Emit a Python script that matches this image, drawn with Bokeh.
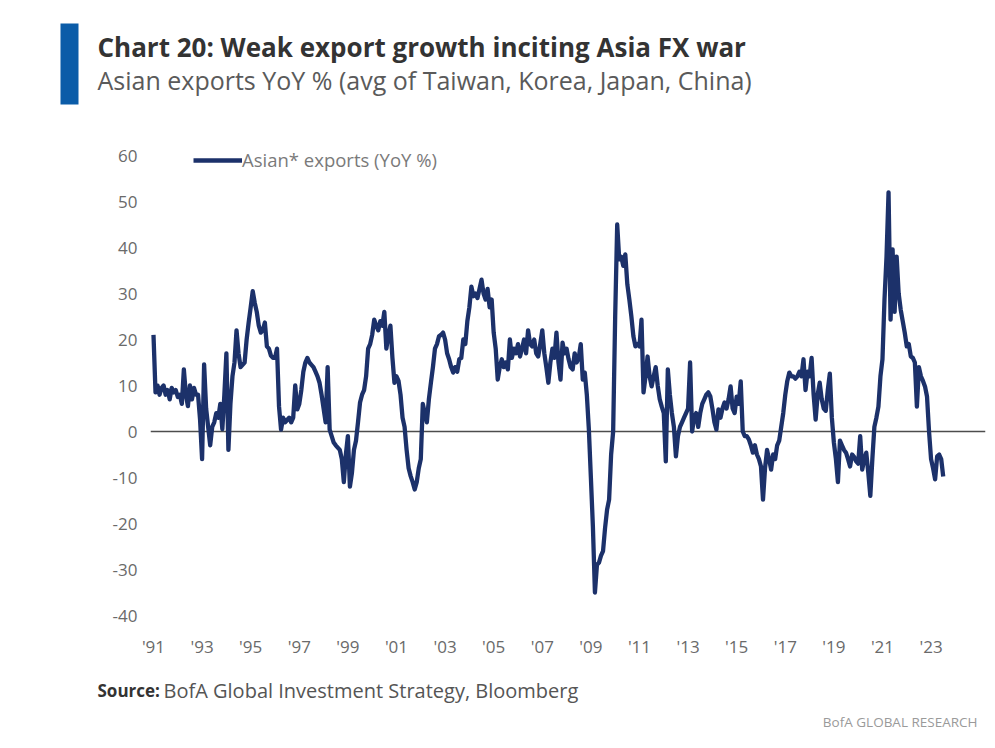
import numpy as np
from bokeh.plotting import figure
from bokeh.layouts import column
from bokeh.models import (Span, Label, BoxAnnotation, FixedTicker, Legend,
                          LegendItem, Range1d)
from bokeh.embed import file_html
from bokeh.resources import INLINE

# ---------------- data (monthly, starting Jan 1991) ----------------
start_year = 1991
export_yoy = [
    21, 8.5, 10, 8, 9.5, 10, 8, 9, 7, 9.5, 8.5, 9,                      # 1991
    7.5, 8, 6, 13.5, 8, 5.5, 10, 7, 9.5, 8, 8, 2.6,                      # 1992
    -6, 14.6, 5, 1, -3, 1, 2, 4, 3, 6, 0.5, 8,                           # 1993
    17, -4, 6, 12, 15, 22, 17, 14, 14.5, 15, 20, 23.7,                   # 1994
    27, 30.5, 28, 26, 23, 21.5, 22, 23.7, 18.5, 18, 16.5, 16,            # 1995
    16, 18, 5.4, 0.4, 3, 2, 2.5, 3, 2, 3, 10, 4.8,                       # 1996
    6, 9, 13, 15, 16, 15, 14.5, 14, 13, 12, 10.6, 8,                     # 1997
    5, 2, 14, 0.4, -1, -2.4, -3, -3.5, -4, -6, -11, -5,                  # 1998
    -1, -12, -9, -4, -2, 2, 6.3, 8, 9, 12, 18, 19,                       # 1999
    21, 24.3, 23, 22, 24, 23, 26, 18, 21, 23, 16, 10.6,                  # 2000
    12, 11, 8, 3, 1, -4, -8, -9.7, -11, -12.6, -11, -8,                  # 2001
    -6, 6, 4, 2, 7, 10.6, 14, 18, 19, 20.7, 21, 21.5,                    # 2002
    20, 17, 15.7, 14, 12.8, 14, 13, 15.7, 16, 20, 19, 24,                # 2003
    27, 31.5, 29.4, 30, 29, 31, 33, 30, 28.7, 31, 27, 28.7,              # 2004
    21.5, 18, 11.3, 14, 15.7, 14, 15, 13.5, 20, 16, 18, 17,              # 2005
    19, 16.3, 18, 20, 17, 22, 19, 18.5, 20, 17, 16.3, 19,                # 2006
    22, 17, 14, 10.6, 15, 18, 16, 21.5, 15, 11.3, 19.3, 17,              # 2007
    18, 15.7, 14, 13.5, 17, 15, 16, 19, 11.3, 12.8, 8, 0.5,              # 2008
    -10, -20.7, -35, -29, -28.5, -27, -26, -21, -17, -14.8, -5, 0,       # 2009
    25, 45, 37.4, 38, 36, 38.5, 32, 28.7, 25, 20.7, 18.5, 19,            # 2010
    18.5, 24.3, 8.5, 12, 16.3, 12, 9.8, 12, 14, 10, 7, 5.4,              # 2011
    4, -6.5, 13.5, 8, 4, 1, -5.4, -1, 1, 2, 3, 4,                        # 2012
    5, 15, 0, 3, 4, 1, 4, 6, 7, 8, 8.5, 7.6,                             # 2013
    5, 2, 0.4, 4.8, 3, 5, 6.3, 5, 7, 9.8, 5, 4,                          # 2014
    7.6, 6, 10.9, 0, -1, -1, -1.7, -3, -4.6, -3, -5, -6,                 # 2015
    -7.6, -14.8, -8, -4, -6, -8.3, -5, -6, -3, -2, 1, 4,                 # 2016
    8, 11, 12.8, 12, 12, 11.5, 12, 13, 12, 15.7, 9, 13,                  # 2017
    12, 16, 8, 2.6, 8, 10.6, 7, 5, 4.5, 9, 12.6, 3,                      # 2018
    -2.4, -6, -11, -2, -3, -4, -4.6, -6, -7.6, -5, -5.5, -6.5,           # 2019
    -7, -1, -8.3, -6, -4.6, -9, -14, -6, 1, 3, 5.4, 12,                  # 2020
    15.7, 28.7, 38, 52, 24.3, 39.6, 26, 38, 30, 26.5, 24, 21.5,          # 2021
    18.5, 19, 16.3, 16, 15, 5.4, 14, 12, 11, 9.8, 7.6, 0,                # 2022
    -6, -8, -10.4, -5.4, -5, -6, -9.8,                                   # 2023
]
x_tick_years = list(range(1991, 2024, 2))
x_tick_labels = ["'91", "'93", "'95", "'97", "'99", "'01", "'03", "'05", "'07",
                 "'09", "'11", "'13", "'15", "'17", "'19", "'21", "'23"]
y_ticks = [-40, -30, -20, -10, 0, 10, 20, 30, 40, 50, 60]
y_tick_labels = ["-40", "-30", "-20", "-10", "0", "10", "20", "30", "40", "50", "60"]

title_text = "Chart 20: Weak export growth inciting Asia FX war"
subtitle_text = "Asian exports YoY % (avg of Taiwan, Korea, Japan, China)"
legend_label = "Asian* exports (YoY %)"
source_label = "Source:"
source_text = "BofA Global Investment Strategy, Bloomberg"
brand_text = "BofA GLOBAL RESEARCH"

W = 995
HEAD_H = 130
FOOT_H = 80
MAIN_H = 748 - HEAD_H - FOOT_H
FRAME_TOP = 140      # canvas px of the plot frame's top edge
FRAME_BOTTOM = 615   # canvas px of the plot frame's bottom edge (= -40)
PX_PER_UNIT = 4.6


def blank(height):
    f = figure(width=W, height=height, output_backend="svg", toolbar_location=None,
               x_range=Range1d(0, W), y_range=Range1d(0, height),
               min_border=0, x_axis_location=None, y_axis_location=None)
    f.frame_align = False
    f.outline_line_color = None
    f.grid.visible = False
    f.background_fill_color = "white"
    f.border_fill_color = "white"
    return f


# ---------------- header ----------------
head = blank(HEAD_H)
head.add_layout(BoxAnnotation(left=60, right=78, top=HEAD_H - 23, bottom=HEAD_H - 104,
                              left_units="screen", right_units="screen",
                              top_units="screen", bottom_units="screen",
                              fill_color="#0B5CA8", fill_alpha=1, line_alpha=0))
head.add_layout(Label(x=97, y=HEAD_H - 46, x_units="screen", y_units="screen",
                      text=title_text, text_font="Open Sans", text_font_style="bold",
                      text_font_size="26px", text_color="#333333",
                      text_baseline="alphabetic"))
head.add_layout(Label(x=97, y=HEAD_H - 79, x_units="screen", y_units="screen",
                      text=subtitle_text, text_font="Open Sans",
                      text_font_size="25px", text_color="#5a5a5a",
                      text_baseline="alphabetic"))

# ---------------- main chart ----------------
months = start_year + np.arange(len(export_yoy)) / 12.0
y_top = -40 + (FRAME_BOTTOM - FRAME_TOP) / PX_PER_UNIT

p = figure(width=W, height=MAIN_H, output_backend="svg", toolbar_location=None,
           x_range=Range1d(1990.877, 2025.24), y_range=Range1d(-40, y_top),
           min_border_left=150, min_border_right=10,
           min_border_top=FRAME_TOP - HEAD_H,
           min_border_bottom=MAIN_H - (FRAME_BOTTOM - HEAD_H))
p.frame_align = False
p.outline_line_color = None
p.grid.visible = False
p.background_fill_color = "white"
p.border_fill_color = "white"

for ax in (p.xaxis, p.yaxis):
    ax.axis_line_color = None
    ax.major_tick_line_color = None
    ax.minor_tick_line_color = None
    ax.major_tick_out = 0
    ax.major_tick_in = 0
    ax.major_label_text_font = "Open Sans"
    ax.major_label_text_font_size = "17px"
    ax.major_label_text_color = "#6a6a6a"

p.xaxis.ticker = FixedTicker(ticks=x_tick_years)
p.xaxis.major_label_overrides = dict(zip(x_tick_years, x_tick_labels))
p.xaxis.major_label_standoff = 19
p.yaxis.ticker = FixedTicker(ticks=y_ticks)
p.yaxis.major_label_overrides = dict(zip(y_ticks, y_tick_labels))
p.yaxis.major_label_standoff = 13

zero = Span(location=0, dimension="width", line_color="#4d4d4d", line_width=1.5,
            level="underlay")
p.add_layout(zero)

r = p.line(months, export_yoy, line_color="#1C316A", line_width=4.3,
           line_join="round")

legend = Legend(items=[LegendItem(label=legend_label, renderers=[r])],
                location=(39, FRAME_BOTTOM - 162 - 14), glyph_width=49, glyph_height=20,
                label_standoff=0, padding=4, margin=0, spacing=0,
                border_line_alpha=0, background_fill_alpha=0,
                label_text_font="Open Sans", label_text_font_size="18.5px",
                label_text_color="#7a7a7a")
p.add_layout(legend)

# ---------------- footer ----------------
foot = blank(FOOT_H)
foot.add_layout(Label(x=97, y=748 - 690, x_units="screen", y_units="screen",
                      text=source_label, text_font="Open Sans", text_font_style="bold",
                      text_font_size="17px", text_color="#333333",
                      text_baseline="alphabetic"))
foot.add_layout(Label(x=163, y=748 - 690, x_units="screen", y_units="screen",
                      text=source_text, text_font="Open Sans",
                      text_font_size="20px", text_color="#555555",
                      text_baseline="alphabetic"))
foot.add_layout(Label(x=977, y=748 - 721, x_units="screen", y_units="screen",
                      text=brand_text, text_align="right", text_font="Open Sans",
                      text_font_size="13.5px", text_color="#9a9a9a",
                      text_baseline="alphabetic"))

layout = column(head, p, foot, spacing=0)
open("out.html", "w").write(file_html(layout, INLINE))
